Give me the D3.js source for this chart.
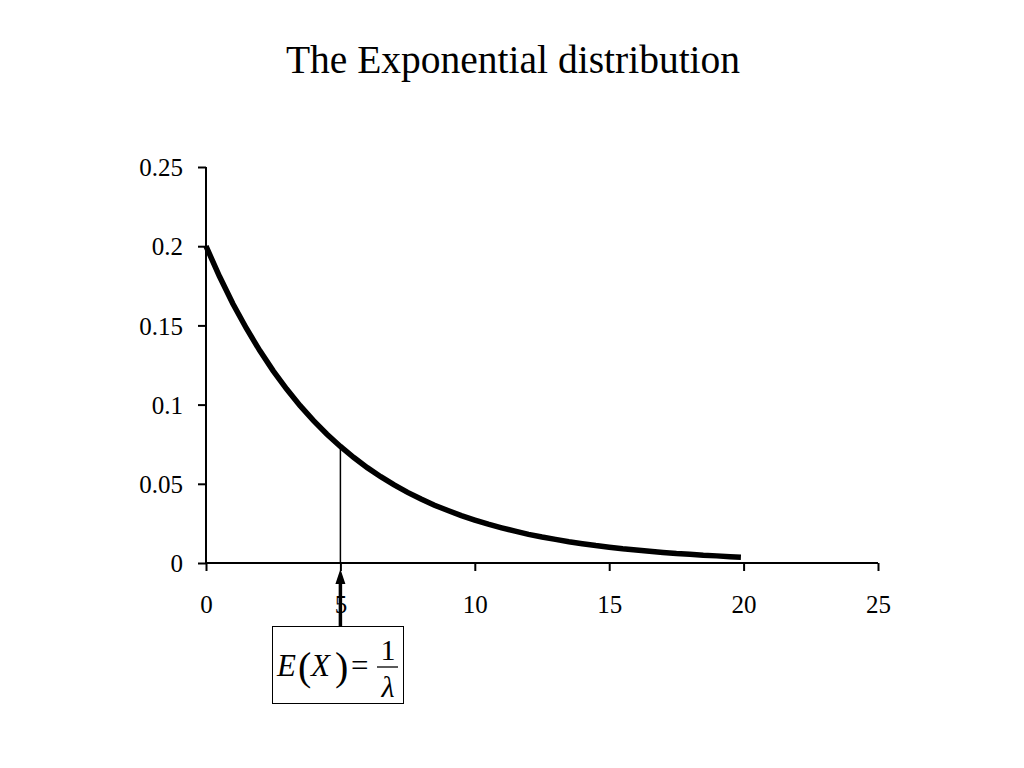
<!DOCTYPE html>
<html><head><meta charset="utf-8">
<script src="https://cdn.jsdelivr.net/npm/d3@7"></script>
<style>body{margin:0;background:#fff;}svg{display:block;} text{font-family:'Liberation Serif','Times New Roman',serif;}</style>
</head><body>
<svg id="c" width="1024" height="768"></svg>
<script>
const title = "The Exponential distribution";
const xValues = [0,0.5,1,1.5,2,2.5,3,3.5,4,4.5,5,5.5,6,6.5,7,7.5,8,8.5,9,9.5,10,10.5,11,11.5,12,12.5,13,13.5,14,14.5,15,15.5,16,16.5,17,17.5,18,18.5,19,19.5,19.9];
const density = [0.2,0.181,0.1637,0.1482,0.1341,0.1213,0.1098,0.0993,0.0899,0.0813,0.0736,0.0666,0.0602,0.0545,0.0493,0.0446,0.0404,0.0365,0.0331,0.0299,0.0271,0.0245,0.0222,0.0201,0.0181,0.0164,0.0149,0.0134,0.0122,0.011,0.01,0.009,0.0082,0.0074,0.0067,0.006,0.0055,0.0049,0.0045,0.004,0.0037];
const xTicks = [0,5,10,15,20,25];
const yTicks = [0,0.05,0.1,0.15,0.2,0.25];
const yTickLabels = ["0","0.05","0.1","0.15","0.2","0.25"];
const meanX = 5;
const meanY = 0.0736;

const svg = d3.select("#c");
const x = d3.scaleLinear().domain([0,25]).range([206,878]);
const y = d3.scaleLinear().domain([0,0.25]).range([563,167]);
const font = "'Liberation Serif','Times New Roman',serif";

svg.append("text").attr("x",513).attr("y",73).attr("text-anchor","middle")
  .attr("font-family",font).attr("font-size",39.5).text(title);

// axes
const xa = svg.append("g").attr("transform","translate(0,563)")
  .call(d3.axisBottom(x).tickValues(xTicks).tickSize(8).tickPadding(24).tickFormat(d3.format("d")));
const ya = svg.append("g").attr("transform","translate(206,0)")
  .call(d3.axisLeft(y).tickValues(yTicks).tickSize(8).tickPadding(15).tickFormat((d,i)=>yTickLabels[i]));
[xa,ya].forEach(a=>{
  a.attr("font-family",font).attr("font-size",25);
  a.select(".domain").attr("stroke","#000").attr("stroke-width",2);
  a.selectAll(".tick line").attr("stroke","#000").attr("stroke-width",2);
  a.selectAll(".tick text").attr("font-family",font).attr("font-size",25).attr("fill","#000");
});
xa.select(".domain").attr("d","M"+x(0)+",0H"+x(25));
ya.select(".domain").attr("d","M0,"+y(0.25)+"V"+y(0));
ya.selectAll(".tick text").attr("dy","0.35em");

// vertical line at mean
svg.append("line").attr("x1",x(meanX)).attr("x2",x(meanX)).attr("y1",y(0)).attr("y2",y(meanY))
  .attr("stroke","#000").attr("stroke-width",1.5);

// curve
const line = d3.line().x((d,i)=>x(xValues[i])).y(d=>y(d));
svg.append("path").datum(density).attr("d",line).attr("fill","none")
  .attr("stroke","#000").attr("stroke-width",5.5).attr("stroke-linejoin","miter").attr("stroke-linecap","butt");

// arrow
const ax = x(meanX);
svg.append("line").attr("x1",ax).attr("x2",ax).attr("y1",627).attr("y2",580)
  .attr("stroke","#000").attr("stroke-width",3.5);
svg.append("path").attr("d",`M${ax},569L${ax-5},584L${ax+5},584Z`).attr("fill","#000");

// formula box
svg.append("rect").attr("x",272.5).attr("y",626.5).attr("width",131).attr("height",77)
  .attr("fill","#fff").attr("stroke","#000").attr("stroke-width",1);
const fg = svg.append("g").attr("fill","#000");
function t(xp,yp,s,sz,it,anchor){
  return fg.append("text").attr("x",xp).attr("y",yp).attr("font-family",font).attr("font-size",sz)
    .attr("font-style",it?"italic":"normal").attr("text-anchor",anchor||"start").text(s);
}
t(277,676,"E",31,true);
t(298,680,"(",40,false);
t(311,676,"X",31,true);
t(335,680,")",40,false);
t(351,676,"=",31,false);
t(388,660,"1",30,false,"middle");
fg.append("line").attr("x1",377).attr("x2",398).attr("y1",667).attr("y2",667).attr("stroke","#000").attr("stroke-width",1.3);
t(388,697,"λ",30,true,"middle");
</script>
</body></html>
